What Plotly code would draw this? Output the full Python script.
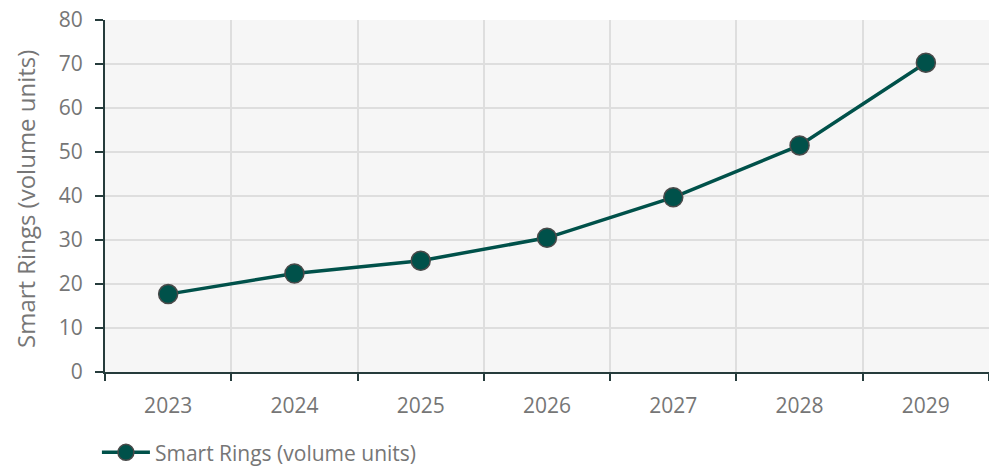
import plotly.graph_objects as go

years = ["2023", "2024", "2025", "2026", "2027", "2028", "2029"]
smart_rings = [17.7, 22.4, 25.3, 30.5, 39.7, 51.5, 70.3]
series_name = "Smart Rings (volume units)"

line_color = "#00514a"
axis_color = "#263c3c"
grey_text = "#767676"
tick_font = dict(family="Open Sans", size=21, color=grey_text)

fig = go.Figure(
    go.Scatter(
        x=years,
        y=smart_rings,
        mode="lines+markers",
        name=series_name,
        line=dict(color=line_color, width=3.5),
        marker=dict(size=19, color=line_color, line=dict(color="#4a4a4a", width=1.5)),
    )
)

fig.update_layout(
    width=989,
    height=468,
    margin=dict(l=105, r=0, t=20, b=96, autoexpand=False),
    paper_bgcolor="white",
    plot_bgcolor="#f6f6f6",
    showlegend=True,
    legend=dict(
        orientation="h",
        xref="container",
        x=0.098,
        xanchor="left",
        yref="paper",
        y=-0.171,
        yanchor="top",
        itemwidth=48,
        font=dict(family="Open Sans", size=21, color=grey_text),
    ),
)

# vertical y-axis title, placed left of the tick labels
fig.add_annotation(
    text=series_name,
    textangle=-90,
    xref="paper",
    yref="paper",
    x=0,
    y=0.5,
    xanchor="center",
    yanchor="middle",
    xshift=-80,
    yshift=-3,
    showarrow=False,
    font=dict(family="Open Sans", size=24, color=grey_text),
)

fig.update_xaxes(
    type="category",
    range=[-0.5, len(years) - 0.5],
    tickson="boundaries",
    automargin=False,
    showline=True,
    linecolor=axis_color,
    linewidth=2,
    ticks="outside",
    tickcolor=axis_color,
    tickwidth=2,
    ticklen=7,
    ticklabelstandoff=14,
    showgrid=True,
    gridcolor="#dedede",
    gridwidth=1.5,
    tickfont=tick_font,
)

fig.update_yaxes(
    range=[0, 80],
    dtick=10,
    automargin=False,
    showline=True,
    linecolor=axis_color,
    linewidth=2,
    ticks="outside",
    tickcolor=axis_color,
    tickwidth=2,
    ticklen=8,
    ticklabelstandoff=8,
    showgrid=True,
    gridcolor="#dedede",
    gridwidth=1.5,
    zeroline=False,
    tickfont=tick_font,
)

fig.write_html("out.html")
